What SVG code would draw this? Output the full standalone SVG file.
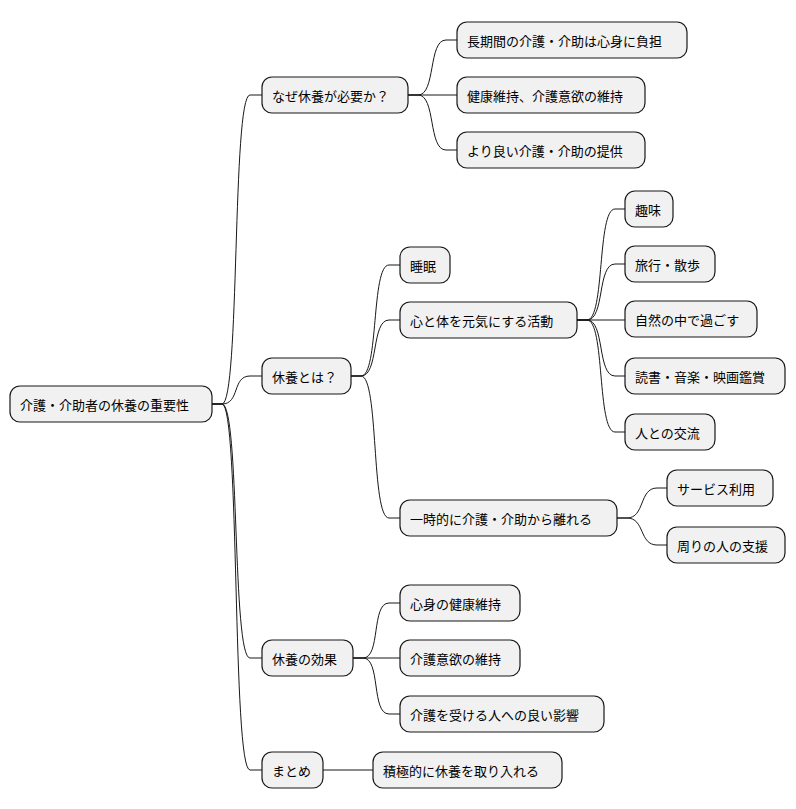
<svg xmlns="http://www.w3.org/2000/svg" width="796" height="809" viewBox="0 0 796 809">
<style>
rect{fill:#f1f1f1;stroke:#181818;stroke-width:1.2}
text{font-family:"Noto Sans CJK JP","Noto Sans CJK SC",sans-serif;font-size:13px;fill:#000;dominant-baseline:central}
#conn path{fill:none;stroke:#181818;stroke-width:1}
</style>
<rect x="0" y="0" width="796" height="809" style="fill:#fff;stroke:none"/>
<g id="conn">
<path d="M212 404 L222 404 C240 404 232 95 250 95 L262 95"/>
<path d="M212 404 L222 404 C240 404 232 376 250 376 L262 376"/>
<path d="M212 404 L222 404 C240 404 232 658 250 658 L262 658"/>
<path d="M212 404 L222 404 C240 404 232 770 250 770 L262 770"/>
<path d="M408 95 L418 95 C436 95 428 40 446 40 L457 40"/>
<path d="M408 95 L457 95"/>
<path d="M408 95 L418 95 C436 95 428 150 446 150 L457 150"/>
<path d="M351 376 L361 376 C379 376 371 265 389 265 L400 265"/>
<path d="M351 376 L361 376 C379 376 371 320 389 320 L400 320"/>
<path d="M351 376 L361 376 C379 376 371 518 389 518 L400 518"/>
<path d="M577 320 L587 320 C605 320 597 209 615 209 L625 209"/>
<path d="M577 320 L587 320 C605 320 597 264 615 264 L625 264"/>
<path d="M577 320 L625 320"/>
<path d="M577 320 L587 320 C605 320 597 376 615 376 L625 376"/>
<path d="M577 320 L587 320 C605 320 597 432 615 432 L625 432"/>
<path d="M617 518 L627 518 C645 518 639 488 657 488 L667 488"/>
<path d="M617 518 L627 518 C645 518 639 545 657 545 L667 545"/>
<path d="M353 658 L363 658 C381 658 371 603 389 603 L400 603"/>
<path d="M353 658 L400 658"/>
<path d="M353 658 L363 658 C381 658 371 714 389 714 L400 714"/>
<path d="M323 770 L373 770"/>
</g>
<g id="root"><rect x="10" y="386" width="202" height="36" rx="10"/><text x="20" y="404">介護・介助者の休養の重要性</text></g>
<g id="n1"><rect x="262" y="77" width="146" height="36" rx="10"/><text x="272" y="95">なぜ休養が必要か？</text></g>
<g id="n1a"><rect x="457" y="22" width="230" height="36" rx="10"/><text x="467" y="40">長期間の介護・介助は心身に負担</text></g>
<g id="n1b"><rect x="457" y="77" width="188" height="36" rx="10"/><text x="467" y="95">健康維持、介護意欲の維持</text></g>
<g id="n1c"><rect x="457" y="132" width="188" height="36" rx="10"/><text x="467" y="150">より良い介護・介助の提供</text></g>
<g id="n2"><rect x="262" y="358" width="89" height="36" rx="10"/><text x="272" y="376">休養とは？</text></g>
<g id="n2a"><rect x="400" y="247" width="50" height="36" rx="10"/><text x="410" y="265">睡眠</text></g>
<g id="n2b"><rect x="400" y="302" width="177" height="36" rx="10"/><text x="410" y="320">心と体を元気にする活動</text></g>
<g id="n2b1"><rect x="625" y="191" width="48" height="36" rx="10"/><text x="635" y="209">趣味</text></g>
<g id="n2b2"><rect x="625" y="246" width="90" height="36" rx="10"/><text x="635" y="264">旅行・散歩</text></g>
<g id="n2b3"><rect x="625" y="301" width="132" height="36" rx="10"/><text x="635" y="319">自然の中で過ごす</text></g>
<g id="n2b4"><rect x="625" y="358" width="160" height="36" rx="10"/><text x="635" y="376">読書・音楽・映画鑑賞</text></g>
<g id="n2b5"><rect x="625" y="414" width="90" height="36" rx="10"/><text x="635" y="432">人との交流</text></g>
<g id="n2c"><rect x="400" y="500" width="217" height="36" rx="10"/><text x="410" y="518">一時的に介護・介助から離れる</text></g>
<g id="n2c1"><rect x="667" y="470" width="106" height="36" rx="10"/><text x="677" y="488">サービス利用</text></g>
<g id="n2c2"><rect x="667" y="527" width="118" height="36" rx="10"/><text x="677" y="545">周りの人の支援</text></g>
<g id="n3"><rect x="262" y="640" width="91" height="36" rx="10"/><text x="272" y="658">休養の効果</text></g>
<g id="n3a"><rect x="400" y="585" width="120" height="36" rx="10"/><text x="410" y="603">心身の健康維持</text></g>
<g id="n3b"><rect x="400" y="640" width="120" height="36" rx="10"/><text x="410" y="658">介護意欲の維持</text></g>
<g id="n3c"><rect x="400" y="696" width="204" height="36" rx="10"/><text x="410" y="714">介護を受ける人への良い影響</text></g>
<g id="n4"><rect x="262" y="752" width="61" height="36" rx="10"/><text x="272" y="770">まとめ</text></g>
<g id="n4a"><rect x="373" y="752" width="189" height="36" rx="10"/><text x="383" y="770">積極的に休養を取り入れる</text></g>
</svg>
